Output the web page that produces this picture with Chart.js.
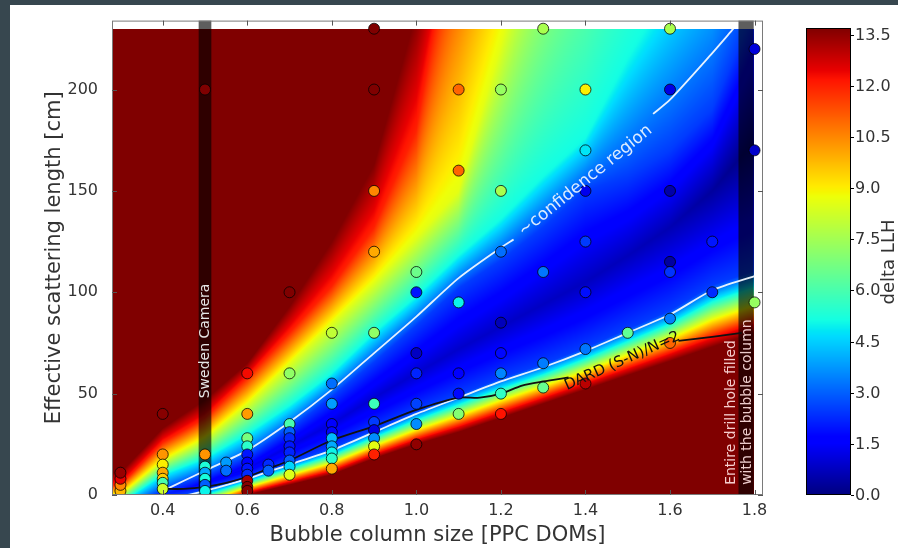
<!DOCTYPE html>
<html>
<head>
<meta charset="utf-8">
<script src="https://cdn.jsdelivr.net/npm/chart.js@4.4.1/dist/chart.umd.min.js"></script>
<style>
  html, body { margin: 0; padding: 0; background: #37474f; }
  #page { position: absolute; left: 10px; top: 5px; width: 888px; height: 543px; background: #fff; }
  canvas { display: block; }
</style>
</head>
<body>
<div id="page"><canvas id="chart" width="888" height="543"></canvas></div>
<script>
// --- DATA ---
// measured runs: bubble column size, scattering length, delta LLH
const ptX = [0.3, 0.3, 0.3, 0.3,
  0.4, 0.4, 0.4, 0.4, 0.4, 0.4, 0.4,
  0.5, 0.5, 0.5, 0.5, 0.5, 0.5, 0.5,
  0.55, 0.55,
  0.6, 0.6, 0.6, 0.6, 0.6, 0.6, 0.6, 0.6, 0.6, 0.6, 0.6,
  0.65, 0.65,
  0.7, 0.7, 0.7, 0.7, 0.7, 0.7, 0.7, 0.7, 0.7, 0.7,
  0.8, 0.8, 0.8, 0.8, 0.8, 0.8, 0.8, 0.8, 0.8, 0.8,
  0.9, 0.9, 0.9, 0.9, 0.9, 0.9, 0.9, 0.9, 0.9, 0.9, 0.9,
  1.0, 1.0, 1.0, 1.0, 1.0, 1.0, 1.0,
  1.1, 1.1, 1.1, 1.1, 1.1, 1.1,
  1.2, 1.2, 1.2, 1.2, 1.2, 1.2, 1.2, 1.2,
  1.3, 1.3, 1.3, 1.3,
  1.4, 1.4, 1.4, 1.4, 1.4, 1.4, 1.4,
  1.5,
  1.6, 1.6, 1.6, 1.6, 1.6, 1.6, 1.6,
  1.7, 1.7,
  1.8, 1.8, 1.8];
const ptY = [2, 5, 8, 11,
  40, 20, 15, 11, 8, 6, 3,
  200, 20, 14, 11, 8, 5, 2,
  16, 12,
  60, 40, 28, 24, 20, 16, 13, 10, 7, 4, 2,
  15, 12,
  100, 60, 35, 31, 28, 24, 21, 17, 14, 10,
  80, 55, 45, 35, 31, 28, 24, 21, 18, 13,
  230, 200, 150, 120, 80, 45, 36, 32, 28, 24, 20,
  110, 100, 70, 60, 45, 35, 25,
  200, 160, 95, 60, 50, 40,
  200, 150, 120, 85, 70, 60, 50, 40,
  230, 110, 65, 53,
  200, 170, 150, 125, 100, 72, 55,
  80,
  230, 200, 150, 115, 110, 87, 75,
  125, 100,
  220, 170, 95];
const ptV = [9.8, 10.5, 12.5, 13.4,
  13.6, 10.3, 9.0, 10.0, 9.5, 6.0, 8.2,
  13.7, 10.3, 5.3, 4.0, 5.2, 3.0, 5.0,
  3.8, 3.2,
  12.3, 10.2, 6.8, 5.5, 2.0, 1.6, 2.0, 2.3, 13.2, 13.6, 13.6,
  2.3, 3.0,
  13.7, 7.2, 6.0, 3.0, 2.3, 2.0, 2.2, 3.0, 4.6, 8.5,
  8.0, 3.2, 3.8, 1.5, 1.8, 4.2, 4.0, 5.0, 5.5, 10.0,
  13.7, 13.7, 10.5, 10.0, 7.2, 5.8, 2.5, 1.2, 3.6, 8.6, 12.0,
  6.6, 2.0, 0.8, 2.2, 2.6, 3.6, 13.5,
  11.0, 11.0, 5.0, 1.7, 1.8, 7.0,
  7.3, 7.6, 3.2, 0.7, 1.8, 3.5, 5.6, 12.2,
  7.6, 3.3, 3.4, 6.5,
  9.0, 4.8, 1.3, 2.5, 1.9, 3.3, 13.0,
  6.4,
  7.6, 1.2, 0.5, 0.4, 2.4, 3.4, 11.0,
  2.0, 2.3,
  1.1, 0.9, 7.3];

// delta LLH background, read per column: y of each colour level below / above the valley
const gridX   = [0.3, 0.4, 0.5, 0.6, 0.7, 0.8, 0.9, 1.0, 1.1, 1.2, 1.3, 1.4, 1.5, 1.6, 1.7, 1.8];
const lo137   = [-38, -18, -8, 0, 5, 10, 18, 25, 31, 38, 45, 52, 59, 66, 73, 80];
const lo120   = [-34, -14, -6, 1.6, 7, 12.4, 20.6, 28, 34.4, 41.6, 48.6, 55.8, 63.2, 70.6, 78.6, 85.6];
const lo86    = [-30, -10, -3, 4, 10, 16, 24.5, 32.5, 39.5, 47, 54, 61.5, 69.5, 77.5, 87, 94];
const lo51    = [-26, -6, 0, 6.4, 13, 19.6, 28.4, 37, 44.6, 52.4, 59.4, 67.2, 75.8, 84.4, 95.4, 102.4];
const lo25    = [-22, -2, 2.9, 8.7, 15.9, 23.1, 32.2, 41.3, 49.5, 57.6, 64.6, 72.7, 81.9, 91, 103.5, 110.6];
const valleyY = [-15, 0, 6, 13, 24, 35, 48, 60, 72, 83, 94, 105, 118, 132, 150, 175];
const valleyV = [2.4, 2.2, 1.6, 1.3, 1.2, 1.1, 1.0, 0.95, 0.9, 0.85, 0.8, 0.75, 0.7, 0.6, 0.35, 0.0];
const up25    = [-8, 2, 9.3, 18.4, 32.4, 48.4, 65.5, 83.5, 102, 115.7, 132, 150, 157, 170, 190, 240];
const up51    = [-4, 10, 18, 30, 44, 60, 80, 98, 118, 136, 157, 176, 215, 250, 280, 330];
const up86    = [0, 17, 28, 45, 65, 85, 105, 127, 150, 222, 300, 380, 460, 540, 620, 700];
const up120   = [5, 26, 38, 58, 80, 103, 132, 180, 295, 380, 460, 540, 620, 700, 780, 860];
const up137   = [11, 33, 47, 65, 93, 125, 163, 238, 320, 400, 480, 560, 640, 720, 800, 880];
const heatX = [0.28, 1.798];
const heatY = [0, 230];

// confidence region contours (white) and DARD line (black); null = label gap
const upperWhiteX = [0.41, 0.45, 0.5, 0.6, 0.7, 0.8, 0.9, 1.0, 1.1, 1.2, 1.23, 1.4, 1.56, 1.6, 1.7, 1.75];
const upperWhiteY = [3, 7, 12, 22, 36, 52, 70, 88, 107, 122, 126, null, 188, 195, 218, 230];
const lowerWhiteX = [0.46, 0.5, 0.6, 0.7, 0.8, 0.9, 1.0, 1.1, 1.2, 1.3, 1.4, 1.5, 1.6, 1.7, 1.8];
const lowerWhiteY = [0, 2, 8, 15, 22, 31, 40, 48, 56, 63, 71, 80, 89, 101, 108];
const dardX = [0.4, 0.45, 0.5, 0.55, 0.6, 0.65, 0.7, 0.8, 0.9, 1.0, 1.1, 1.15, 1.2, 1.25, 1.3, 1.36, 1.5, 1.62, 1.7, 1.77];
const dardY = [3, 3, 4, 6, 9, 13, 17, 27, 34, 42, 48, 48, 50, 54, 56, 58, null, 76, 78, 80];

// shaded detector bands
const swedenBand = [0.485, 0.515];
const drillBand = [1.762, 1.798];

const xTicks = [0.4, 0.6, 0.8, 1.0, 1.2, 1.4, 1.6, 1.8];
const yTicks = [0, 50, 100, 150, 200];
const cbTicks = [0.0, 1.5, 3.0, 4.5, 6.0, 7.5, 9.0, 10.5, 12.0, 13.5];
const cbMax = 13.7;

// --- COLOUR MAP (jet) ---
const jetR = [[0, 0], [0.35, 0], [0.66, 1], [0.89, 1], [1, 0.5]];
const jetG = [[0, 0], [0.125, 0], [0.375, 1], [0.64, 1], [0.91, 0], [1, 0]];
const jetB = [[0, 0.5], [0.11, 1], [0.34, 1], [0.65, 0], [1, 0]];
function seg(stops, t) {
    for (let i = 1; i < stops.length; i++) {
        if (t <= stops[i][0]) {
            const [t0, v0] = stops[i - 1], [t1, v1] = stops[i];
            return v0 + (v1 - v0) * (t - t0) / (t1 - t0);
        }
    }
    return stops[stops.length - 1][1];
}
function jet(v) {
    const t = Math.min(1, Math.max(0, v / cbMax));
    return [seg(jetR, t) * 255, seg(jetG, t) * 255, seg(jetB, t) * 255];
}
const jetCss = v => { const c = jet(v); return `rgb(${c[0] | 0},${c[1] | 0},${c[2] | 0})`; };

// --- FIELD HELPERS ---
function columnKnots(xv) {
    let i = 0;
    while (i < gridX.length - 2 && xv > gridX[i + 1]) i++;
    const f = Math.max(0, Math.min(1, (xv - gridX[i]) / (gridX[i + 1] - gridX[i])));
    const at = a => a[i] + (a[i + 1] - a[i]) * f;
    return {
        ys: [lo137, lo120, lo86, lo51, lo25, valleyY, up25, up51, up86, up120, up137].map(at),
        vs: [13.7, 12, 8.6, 5.1, 2.5, at(valleyV), 2.5, 5.1, 8.6, 12, 13.7]
    };
}
function valueAt(k, yv) {
    const { ys, vs } = k;
    if (yv <= ys[0] || yv >= ys[ys.length - 1]) return cbMax;
    for (let j = 0; j < ys.length - 1; j++) {
        if (yv < ys[j + 1]) return vs[j] + (vs[j + 1] - vs[j]) * (yv - ys[j]) / (ys[j + 1] - ys[j]);
    }
    return cbMax;
}

const toPts = (xs, ys) => xs.map((v, i) => ({ x: v, y: ys[i] }));
const FONT = 'DejaVu Sans';
const TEXT = '#333';

// --- PLUGIN: heatmap, bands, labels, frame, colorbar ---
const heatPlugin = {
    id: 'heat',
    beforeDatasetsDraw(chart) {
        const { ctx, chartArea: a, scales: { x, y } } = chart;
        const px0 = Math.round(x.getPixelForValue(heatX[0])), px1 = Math.round(x.getPixelForValue(heatX[1]));
        const py0 = Math.round(y.getPixelForValue(heatY[1])), py1 = Math.round(y.getPixelForValue(heatY[0]));
        const w = px1 - px0, h = py1 - py0;
        const off = document.createElement('canvas');
        off.width = w; off.height = h;
        const octx = off.getContext('2d');
        const img = octx.createImageData(w, h);
        for (let i = 0; i < w; i++) {
            const k = columnKnots(x.getValueForPixel(px0 + i + 0.5));
            for (let j = 0; j < h; j++) {
                const c = jet(valueAt(k, y.getValueForPixel(py0 + j + 0.5)));
                const p = (j * w + i) * 4;
                img.data[p] = c[0]; img.data[p + 1] = c[1]; img.data[p + 2] = c[2]; img.data[p + 3] = 255;
            }
        }
        octx.putImageData(img, 0, 0);
        ctx.save();
        ctx.drawImage(off, px0, py0);
        ctx.fillStyle = 'rgba(0,0,0,0.63)';
        [swedenBand, drillBand].forEach(b => {
            const l = x.getPixelForValue(b[0]), r = x.getPixelForValue(b[1]);
            ctx.fillRect(l, a.top, r - l, a.bottom - a.top);
        });
        ctx.restore();
    },
    afterDatasetsDraw(chart) {
        const { ctx, scales: { x, y } } = chart;
        const label = (txt, xv, yv, deg, size, color, align) => {
            ctx.save();
            ctx.translate(x.getPixelForValue(xv), y.getPixelForValue(yv));
            ctx.rotate(deg * Math.PI / 180);
            ctx.font = `${size}px "${FONT}"`;
            ctx.fillStyle = color;
            ctx.textAlign = align || 'center';
            ctx.textBaseline = 'middle';
            ctx.fillText(txt, 0, 0);
            ctx.restore();
        };
        label('~confidence region', 1.40, 155, -39, 17, 'rgba(232,242,255,0.95)');
        label('DARD (S-N)/N=2', 1.487, 66, -24, 15, '#111');
        label('Sweden Camera', 0.5, 76, -90, 14, '#e6e6e6');
        label('Entire drill hole filled', 1.745, 5, -90, 14, 'rgba(255,222,222,0.92)', 'left');
        label('with the bubble column', 1.783, 5, -90, 14, 'rgba(255,222,222,0.92)', 'left');
    },
    afterDraw(chart) {
        const { ctx, chartArea: a, scales: { x, y } } = chart;
        ctx.save();
        // frame and inward ticks
        ctx.strokeStyle = '#7a7a7a';
        ctx.lineWidth = 1;
        ctx.strokeRect(a.left + 0.5, a.top + 0.5, a.width - 1, a.height - 1);
        ctx.strokeStyle = '#555';
        ctx.beginPath();
        xTicks.forEach(v => {
            const px = Math.round(x.getPixelForValue(v)) + 0.5;
            ctx.moveTo(px, a.bottom); ctx.lineTo(px, a.bottom - 5);
            ctx.moveTo(px, a.top); ctx.lineTo(px, a.top + 5);
        });
        yTicks.forEach(v => {
            const py = Math.round(y.getPixelForValue(v)) + 0.5;
            ctx.moveTo(a.left, py); ctx.lineTo(a.left + 5, py);
            ctx.moveTo(a.right, py); ctx.lineTo(a.right - 5, py);
        });
        ctx.stroke();

        // colorbar
        const cbL = 796, cbR = 841, cbT = 23, cbB = 490;
        const cbY = v => cbB - v / cbMax * (cbB - cbT);
        for (let py = cbT; py < cbB; py++) {
            ctx.fillStyle = jetCss((cbB - py - 0.5) / (cbB - cbT) * cbMax);
            ctx.fillRect(cbL, py, cbR - cbL, 1);
        }
        ctx.strokeStyle = '#000';
        ctx.strokeRect(cbL + 0.5, cbT + 0.5, cbR - cbL - 1, cbB - cbT - 1);
        ctx.font = `16px "${FONT}"`;
        ctx.fillStyle = TEXT;
        ctx.textAlign = 'left';
        ctx.textBaseline = 'middle';
        ctx.beginPath();
        cbTicks.forEach(v => {
            const py = Math.round(cbY(v)) + 0.5;
            ctx.moveTo(cbR, py); ctx.lineTo(cbR + 3, py);
            ctx.fillText(v.toFixed(1), cbR + 4, py);
        });
        ctx.stroke();
        ctx.translate(879, 257);
        ctx.rotate(-Math.PI / 2);
        ctx.textAlign = 'center';
        ctx.font = `18px "${FONT}"`;
        ctx.fillText('delta LLH', 0, 0);
        ctx.restore();
    }
};

// --- CHART ---
const lineStyle = { showLine: true, pointRadius: 0, spanGaps: false, tension: 0.25, fill: false };
new Chart(document.getElementById('chart').getContext('2d'), {
    type: 'scatter',
    data: {
        datasets: [
            {
                label: 'runs',
                data: toPts(ptX, ptY),
                pointRadius: 5.5,
                pointBackgroundColor: ptV.map(jetCss),
                pointBorderColor: 'rgba(0,0,0,0.75)',
                pointBorderWidth: 1
            },
            { label: 'DARD', data: toPts(dardX, dardY), borderColor: '#111', borderWidth: 1.8, ...lineStyle },
            { label: 'upper', data: toPts(upperWhiteX, upperWhiteY), borderColor: 'rgba(240,248,255,0.95)', borderWidth: 1.8, ...lineStyle },
            { label: 'lower', data: toPts(lowerWhiteX, lowerWhiteY), borderColor: 'rgba(240,248,255,0.95)', borderWidth: 1.8, ...lineStyle }
        ]
    },
    options: {
        responsive: false,
        animation: false,
        events: [],
        layout: { padding: { left: 32, right: 135, top: 14, bottom: 0 } },
        plugins: { legend: { display: false }, tooltip: { enabled: false } },
        scales: {
            x: {
                type: 'linear', min: 0.28, max: 1.82,
                afterBuildTicks: s => { s.ticks = xTicks.map(v => ({ value: v })); },
                afterFit: s => { s.height = 53; },
                grid: { display: false }, border: { display: false },
                ticks: { callback: v => v.toFixed(1), font: { family: FONT, size: 16 }, color: TEXT, padding: -2, maxRotation: 0, autoSkip: false },
                title: { display: true, text: 'Bubble column size [PPC DOMs]', font: { family: FONT, size: 21 }, color: TEXT, padding: { top: 0, bottom: 0 } }
            },
            y: {
                type: 'linear', min: 0, max: 234,
                afterBuildTicks: s => { s.ticks = yTicks.map(v => ({ value: v })); },
                afterFit: s => { s.width = 70; },
                grid: { display: false }, border: { display: false },
                ticks: { callback: v => String(v), font: { family: FONT, size: 16 }, color: TEXT, padding: 6, autoSkip: false },
                title: { display: true, text: 'Effective scattering length [cm]', font: { family: FONT, size: 21 }, color: TEXT, padding: { top: 0, bottom: 0 } }
            }
        }
    },
    plugins: [heatPlugin]
});
</script>
</body>
</html>
